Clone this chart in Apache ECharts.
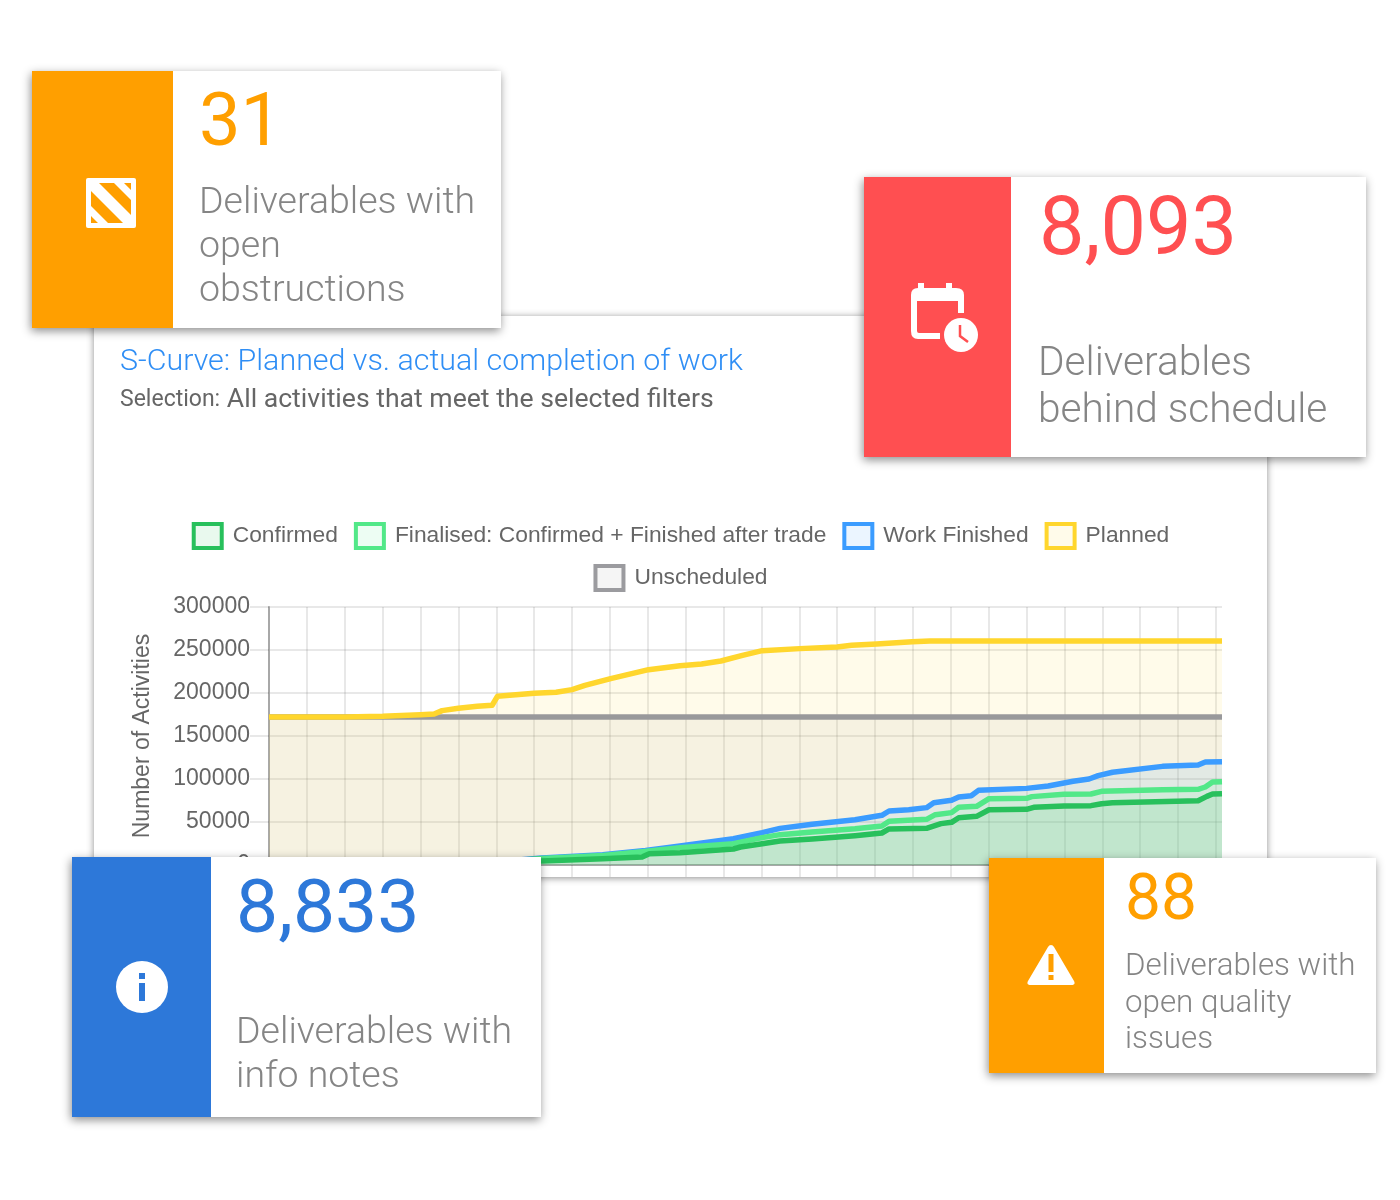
<!DOCTYPE html>
<html lang="en">

<head>
    <meta charset="UTF-8">
    <title>S-Curve</title>
    <style>
        html, body { margin: 0; width: 1400px; height: 1200px; background: #fff; overflow: hidden; font-family: Roboto, sans-serif; }
        #panel { position: absolute; left: 94px; top: 316px; width: 1173px; height: 561px; background: #fff; box-shadow: 0 1px 7px rgba(0, 0, 0, .45); }
        .card { position: absolute; background: #fff; box-shadow: -1px 3px 9px rgba(0, 0, 0, .45); }
        .side { position: absolute; left: 0; top: 0; height: 100%; }
        .side svg { position: absolute; }
        .num, .txt { position: absolute; white-space: nowrap; }
        .num { font-weight: 400; }
        .txt { font-weight: 300; color: #858585; }
    </style>
</head>

<body>
    <div id="panel"></div>

    <div class="card" style="left:32px;top:71px;width:469px;height:257px">
        <div class="side" style="width:141px;background:#ff9f00">
            <svg style="left:54px;top:107px" width="50" height="50" viewBox="0 0 50 50">
                <rect width="50" height="50" rx="2" fill="#fff" />
                <path d="M13 5 H28 L45 22 V37 Z M5 13 L37 45 H22 L5 28 Z M38 5 H45 V12 Z M5 38 L12 45 H5 Z" fill="#ff9f00" />
            </svg>
        </div>
        <div class="num" style="left:167px;top:12px;font-size:74px;line-height:74px;color:#ff9f00">31</div>
        <div class="txt" style="left:167px;top:107px;font-size:37.5px;line-height:44px">Deliverables with<br>open<br>obstructions</div>
    </div>

    <div class="card" style="left:864px;top:177px;width:502px;height:280px">
        <div class="side" style="width:147px;background:#ff4f51">
            <svg style="left:46px;top:104px" width="70" height="74" viewBox="0 0 70 74">
                <path d="M8 2 H14 V7 H36 V2 H42 V7 H46 Q54 7 54 14 V32 H48 V20 H7 V50 Q7 52 9 52 H30 V58 H8 Q1 58 1 50 V14 Q1 7 8 7 Z" fill="#fff" />
                <circle cx="51" cy="54" r="17" fill="#fff" />
                <path d="M50 44 V55 L58 61" fill="none" stroke="#ff4f51" stroke-width="2.5" />
            </svg>
        </div>
        <div class="num" style="left:175px;top:9px;font-size:81px;line-height:81px;color:#ff4f51">8,093</div>
        <div class="txt" style="left:174px;top:161px;font-size:40.6px;line-height:47px">Deliverables<br>behind schedule</div>
    </div>

    <div class="card" style="left:72px;top:857px;width:469px;height:260px">
        <div class="side" style="width:139px;background:#2d78d9">
            <svg style="left:44px;top:104px" width="52" height="52" viewBox="0 0 52 52">
                <circle cx="26" cy="26" r="26" fill="#fff" />
                <rect x="23" y="12" width="6" height="6" fill="#2d78d9" />
                <rect x="23" y="22" width="6" height="18" fill="#2d78d9" />
            </svg>
        </div>
        <div class="num" style="left:164px;top:12px;font-size:75px;line-height:75px;color:#2d78d9">8,833</div>
        <div class="txt" style="left:164px;top:151px;font-size:37.5px;line-height:44px">Deliverables with<br>info notes</div>
    </div>

    <div class="card" style="left:989px;top:858px;width:387px;height:215px">
        <div class="side" style="width:115px;background:#ff9f00">
            <svg style="left:38px;top:86px" width="48" height="42" viewBox="0 0 48 42">
                <path d="M24 1 Q26 1 27 3 L47 37 Q49 41 44 41 H4 Q-1 41 1 37 L21 3 Q22 1 24 1 Z" fill="#fff" />
                <rect x="21.5" y="10" width="5" height="18" fill="#ff9f00" />
                <rect x="21.5" y="31" width="5" height="5" fill="#ff9f00" />
            </svg>
        </div>
        <div class="num" style="left:136px;top:7px;font-size:64px;line-height:65px;color:#ff9f00">88</div>
        <div class="txt" style="left:136px;top:89px;font-size:31.3px;line-height:36.5px">Deliverables with<br>open quality<br>issues</div>
    </div>

    <script src="https://cdn.jsdelivr.net/npm/echarts@6/dist/echarts.min.js"></script>
    <script>
        // x is the position along the hidden time axis, in grid steps
        const unscheduled = [[0, 172100], [25.16, 172100]];
        const planned = [[0, 172100], [2, 172100], [3, 172900], [4, 174800], [4.36, 175600], [4.57, 179500], [5, 182200],
            [5.5, 184500], [5.89, 185700], [6.03, 196100], [7, 199600], [7.58, 200800], [8, 203900], [8.34, 208900],
            [9.02, 216700], [10.02, 227100], [10.85, 231800], [11.42, 233700], [11.93, 237200], [12.5, 243800],
            [13.02, 249200], [14.01, 251600], [15, 253500], [15.38, 255400], [16.04, 257000], [16.98, 259700],
            [17.45, 260500], [25.16, 260500]];
        const workFinished = [[0, 0], [3, 800], [6, 3500], [7.2, 8100], [8.81, 12000], [9.94, 17000], [10.85, 22000],
            [12.26, 30600], [13.02, 37600], [13.49, 42600], [14.34, 47300], [15.47, 52700], [16.18, 57800], [16.37, 62800],
            [16.89, 64300], [17.36, 66700], [17.55, 72500], [18.02, 75200], [18.21, 79100], [18.54, 80600], [18.73, 86800],
            [20, 89100], [20.57, 91900], [21.23, 97300], [21.65, 100000], [21.89, 103900], [22.27, 107800], [23.59, 114700],
            [24.53, 116300], [24.72, 119800], [25.16, 120200]];
        const finalised = [[0, 0], [3, 700], [6, 3200], [7.2, 7500], [8.81, 11000], [9.85, 15500], [10.85, 20200],
            [12.26, 24800], [13.02, 31800], [13.49, 35300], [14.34, 38400], [15.47, 42200], [16.18, 45300], [16.37, 50800],
            [17.36, 53100], [17.59, 58500], [18.02, 60900], [18.21, 67100], [18.68, 68200], [19.01, 77100], [20, 77500],
            [20.14, 79500], [20.99, 82200], [21.7, 82600], [21.98, 85700], [23.59, 87600], [24.53, 88000], [24.72, 90700],
            [24.91, 96500], [25.16, 96900]];
        const confirmed = [[0, 0], [3, 500], [6, 2500], [7.2, 4650], [8.81, 7400], [9.85, 9300], [10.04, 13200], [10.85, 14300],
            [12.26, 18600], [12.45, 20900], [13.02, 24800], [13.49, 27900], [14.34, 30200], [15.47, 34100], [16.18, 37200],
            [16.37, 41900], [17.36, 42600], [17.74, 48100], [18.02, 49600], [18.21, 55000], [18.68, 56600], [19.01, 64300],
            [20, 64700], [20.19, 67100], [20.99, 68600], [21.7, 69000], [21.98, 71300], [22.27, 72500], [24.53, 74800],
            [24.76, 79800], [24.91, 82600], [25.16, 82900]];

        const seriesNames = ['Confirmed', 'Finalised: Confirmed + Finished after trade', 'Work Finished', 'Planned', 'Unscheduled'];
        const seriesColors = ['#28c05c', '#52e888', '#3b9cff', '#ffd62d', '#9b9b9f'];
        const gridColor = 'rgba(0,0,0,.09)';

        function lineSeries(i, data, z, lineColor) {
            return {
                name: seriesNames[i],
                type: 'line',
                data: data,
                z: z,
                symbol: 'none',
                lineStyle: { color: lineColor || seriesColors[i], width: 5.5, join: 'round' },
                itemStyle: { color: seriesColors[i] },
                areaStyle: { color: seriesColors[i], opacity: 0.1, origin: 'start' }
            };
        }

        // outlined box with a pale fill, as in the legend of the page
        function legendItem(i) {
            return {
                name: seriesNames[i],
                itemStyle: {
                    color: echarts.color.modifyAlpha(seriesColors[i], 0.1),
                    borderColor: seriesColors[i],
                    borderWidth: 4
                }
            };
        }

        const legendBase = {
            itemWidth: 28, itemHeight: 24, itemGap: 16, icon: 'rect', left: 'center', padding: 0,
            textStyle: { fontFamily: 'Liberation Sans', fontSize: 22.8, color: '#666', padding: [0, 0, 0, 6] }
        };

        const chart = echarts.init(document.getElementById('panel'), null, { renderer: 'canvas' });
        chart.setOption({
            animation: false,
            title: {
                text: 'S-Curve: Planned vs. actual completion of work',
                left: 26, top: 31, padding: 0, itemGap: 10,
                textStyle: { fontFamily: 'Roboto', fontWeight: 300, fontSize: 30.4, color: '#2f8ef5' },
                subtext: '{a|Selection:}  {b|All activities that meet the selected filters}',
                subtextStyle: {
                    rich: {
                        a: { fontFamily: 'Roboto', fontSize: 23, color: '#666' },
                        b: { fontFamily: 'Roboto', fontSize: 26.6, color: '#666' }
                    }
                }
            },
            legend: [
                Object.assign({}, legendBase, { data: [0, 1, 2, 3].map(legendItem), top: 206 }),
                Object.assign({}, legendBase, { data: [4].map(legendItem), top: 248 })
            ],
            grid: { left: 175, right: 45, top: 291, bottom: 12 },
            xAxis: {
                type: 'value', min: 0, max: 25.16, interval: 1,
                axisLine: { show: true, onZero: false, lineStyle: { color: '#a8a8a8', width: 2 } },
                axisTick: { show: true, length: 12, lineStyle: { color: gridColor, width: 2 } },
                axisLabel: { show: false },
                splitLine: { show: true, showMaxLine: false, lineStyle: { color: gridColor, width: 2 } }
            },
            yAxis: {
                type: 'value', min: 0, max: 300000, interval: 50000,
                name: 'Number of Activities',
                nameLocation: 'middle',
                nameGap: 115,
                nameTextStyle: { fontFamily: 'Liberation Sans', fontSize: 23, color: '#666' },
                axisLine: { show: true, lineStyle: { color: '#a8a8a8', width: 2 } },
                axisTick: { show: true, length: 19, lineStyle: { color: gridColor, width: 2 } },
                axisLabel: {
                    fontFamily: 'Liberation Sans', fontSize: 23, color: '#666', margin: 19, padding: [2, 0, 0, 0],
                    formatter: function (v) { return String(v); }
                },
                splitLine: { show: true, lineStyle: { color: gridColor, width: 2 } }
            },
            series: [
                lineSeries(4, unscheduled, 2, '#8e92a7'),
                lineSeries(3, planned, 3),
                lineSeries(2, workFinished, 4),
                lineSeries(1, finalised, 5),
                lineSeries(0, confirmed, 6)
            ]
        });
    </script>
</body>

</html>
